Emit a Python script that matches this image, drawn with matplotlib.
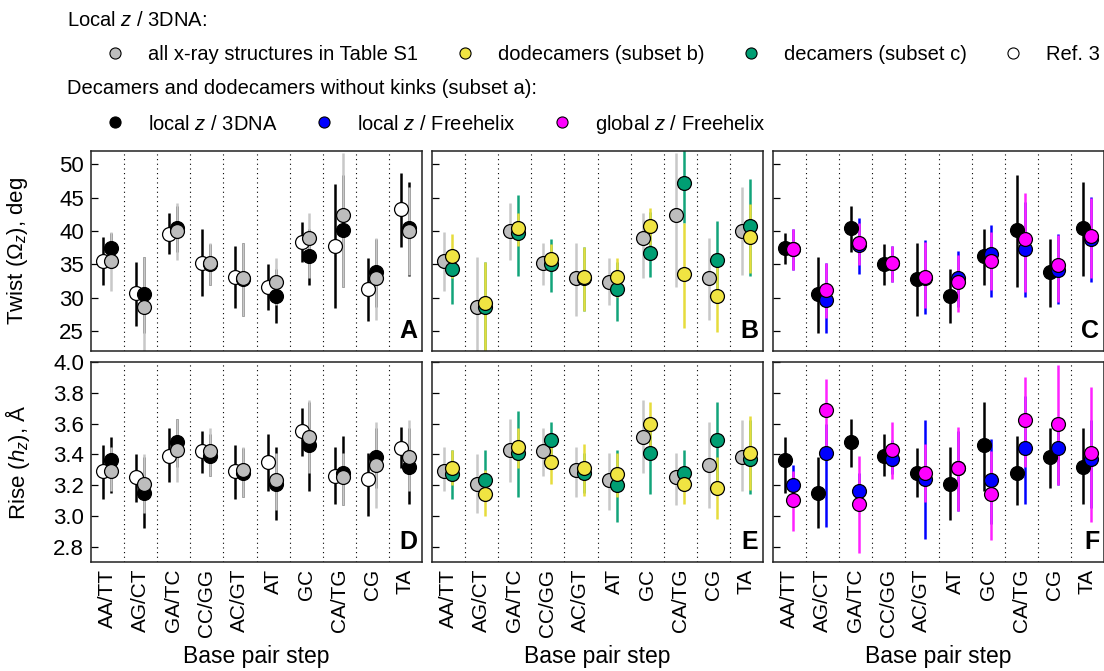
import matplotlib
matplotlib.use('Agg')
import matplotlib.pyplot as plt
from matplotlib.lines import Line2D
import numpy as np

plt.rcParams['font.family'] = ['Liberation Sans', 'DejaVu Sans']
plt.rcParams['mathtext.fontset'] = 'custom'
plt.rcParams['mathtext.rm'] = 'Liberation Sans'
plt.rcParams['mathtext.it'] = 'Liberation Sans:italic'

categories = ['AA/TT', 'AG/CT', 'GA/TC', 'CC/GG', 'AC/GT', 'AT', 'GC', 'CA/TG', 'CG', 'TA']

# ---------------- Twist (deg) ----------------
twist_all = [35.5, 28.55, 40.0, 35.25, 33.0, 32.3, 39.0, 42.4, 33.0, 40.0]
twist_all_lo = [31.05, 21.9, 35.65, 31.9, 27.3, 28.9, 32.9, 31.65, 26.65, 33.4]
twist_all_hi = [39.8, 36.15, 44.15, 38.15, 38.15, 35.9, 42.65, 51.65, 39.0, 46.65]

twist_ref3 = [35.5, 30.65, 39.5, 35.25, 33.1, 31.65, 38.4, 37.8, 31.3, 43.3]
twist_ref3_lo = [31.9, 25.8, 36.5, 30.3, 28.4, 28.15, 35.4, 28.4, 26.5, 37.65]
twist_ref3_hi = [39.15, 35.4, 42.65, 40.25, 37.75, 35.05, 41.4, 47.0, 36.0, 48.75]

twist_a3dna = [37.4, 30.5, 40.5, 35.05, 32.8, 30.25, 36.25, 40.15, 33.8, 40.5]
twist_a3dna_lo = [35.05, 24.75, 36.9, 31.9, 27.3, 26.15, 31.9, 31.65, 28.65, 33.3]
twist_a3dna_hi = [39.65, 36.15, 43.75, 38.05, 38.15, 34.3, 40.25, 48.4, 38.75, 47.4]

twist_afree = [37.3, 29.65, 37.9, 35.2, 33.0, 33.0, 36.5, 37.25, 34.15, 38.75]
twist_afree_lo = [34.15, 24.75, 33.55, 32.4, 27.5, 28.55, 30.15, 30.15, 29.05, 32.3]
twist_afree_hi = [40.25, 35.15, 42.0, 37.75, 38.65, 37.0, 40.9, 44.4, 39.5, 45.05]

twist_aglob = [37.3, 31.15, 38.25, 35.25, 33.1, 32.3, 35.5, 38.8, 34.9, 39.3]
twist_aglob_lo = [34.15, 26.9, 34.9, 32.4, 28.4, 27.9, 31.15, 30.9, 29.4, 32.9]
twist_aglob_hi = [40.25, 35.15, 41.15, 37.75, 38.4, 36.4, 39.9, 45.75, 39.4, 44.9]

twist_dodec = [36.3, 29.15, 40.4, 35.75, 33.05, 33.05, 40.8, 33.5, 30.25, 39.15]
twist_dodec_lo = [32.9, 21.9, 37.8, 34.15, 28.05, 30.15, 37.9, 25.5, 24.9, 33.65]
twist_dodec_hi = [39.5, 35.4, 42.65, 38.0, 37.65, 35.9, 43.5, 41.15, 35.4, 44.0]

twist_dec = [34.25, 28.65, 39.65, 35.0, 33.0, 31.3, 36.75, 47.15, 35.65, 40.75]
twist_dec_lo = [29.0, 21.9, 33.3, 30.9, 28.05, 26.55, 33.05, 41.15, 30.9, 33.25]
twist_dec_hi = [36.4, 35.3, 45.4, 38.75, 37.65, 35.4, 42.9, 52.15, 41.5, 47.75]

# ---------------- Rise (Angstrom) ----------------
rise_all = [3.29, 3.21, 3.43, 3.42, 3.30, 3.23, 3.51, 3.25, 3.33, 3.38]
rise_all_lo = [3.16, 3.02, 3.22, 3.26, 3.12, 3.04, 3.28, 3.07, 3.05, 3.16]
rise_all_hi = [3.45, 3.40, 3.63, 3.57, 3.45, 3.41, 3.75, 3.41, 3.61, 3.62]

rise_ref3 = [3.29, 3.25, 3.39, 3.42, 3.29, 3.35, 3.55, 3.26, 3.24, 3.44]
rise_ref3_lo = [3.11, 3.09, 3.22, 3.28, 3.11, 3.16, 3.39, 3.08, 3.00, 3.31]
rise_ref3_hi = [3.46, 3.40, 3.57, 3.55, 3.46, 3.53, 3.70, 3.45, 3.41, 3.58]

rise_a3dna = [3.36, 3.15, 3.48, 3.39, 3.28, 3.21, 3.46, 3.28, 3.38, 3.32]
rise_a3dna_lo = [3.15, 2.92, 3.32, 3.26, 3.12, 2.97, 3.16, 3.07, 3.18, 3.08]
rise_a3dna_hi = [3.51, 3.38, 3.63, 3.53, 3.44, 3.45, 3.74, 3.52, 3.57, 3.57]

rise_afree = [3.20, 3.41, 3.16, 3.37, 3.24, 3.31, 3.23, 3.44, 3.44, 3.37]
rise_afree_lo = [3.08, 2.93, 3.06, 3.27, 2.85, 3.03, 2.95, 3.08, 3.20, 3.05]
rise_afree_hi = [3.33, 3.60, 3.28, 3.49, 3.62, 3.55, 3.50, 3.78, 3.62, 3.62]

rise_aglob = [3.10, 3.69, 3.08, 3.43, 3.28, 3.31, 3.14, 3.62, 3.60, 3.41]
rise_aglob_lo = [2.90, 3.45, 2.76, 3.24, 3.09, 3.03, 2.84, 3.32, 3.20, 2.96]
rise_aglob_hi = [3.29, 3.89, 3.39, 3.61, 3.47, 3.58, 3.42, 3.90, 3.98, 3.84]

rise_dodec = [3.31, 3.14, 3.45, 3.35, 3.31, 3.27, 3.60, 3.21, 3.18, 3.41]
rise_dodec_lo = [3.20, 3.00, 3.31, 3.21, 3.13, 3.12, 3.45, 3.08, 2.98, 3.17]
rise_dodec_hi = [3.43, 3.30, 3.57, 3.50, 3.47, 3.41, 3.74, 3.32, 3.38, 3.65]

rise_dec = [3.27, 3.23, 3.41, 3.49, 3.28, 3.20, 3.41, 3.28, 3.49, 3.37]
rise_dec_lo = [3.11, 3.19, 3.12, 3.32, 3.15, 2.96, 3.14, 3.17, 3.21, 3.14]
rise_dec_hi = [3.43, 3.43, 3.68, 3.61, 3.41, 3.43, 3.65, 3.43, 3.74, 3.62]

# ---------------- styles ----------------
FACE = {'all': '#bdbdbd', 'ref3': 'white', 'a3dna': 'black', 'afree': '#0000ff',
        'aglob': '#ff00ff', 'dodec': '#f0e442', 'dec': '#009e73'}
BAR = {'all': '#c8c8c8', 'ref3': 'black', 'a3dna': 'black', 'afree': '#0000ff',
       'aglob': '#ff22ff', 'dodec': '#e6dc3c', 'dec': '#12a47a'}
LEFT, RIGHT = -0.14, 0.10

W, H = 1104, 671
fig = plt.figure(figsize=(W / 100, H / 100), dpi=100)


def rect(l, t, w, h):
    return [l / W, 1 - (t + h) / H, w / W, h / H]


lefts = [91, 432, 773]
tops = [151, 362]
PW, PH = 331, 200

xc = np.arange(len(categories)) + 0.5


def draw(ax, series, ylim, yticks, ylabels, letter, bottom_row):
    for k in range(1, len(categories)):
        ax.axvline(k, color='black', lw=0.8, ls=(0, (1, 3.2)), zorder=1)
    for i, (key, vals, lo, hi, off) in enumerate(series):
        ax.vlines(xc + off, lo, hi, color=BAR[key], lw=1.8, zorder=2 + 0.01 * i)
    for i, (key, vals, lo, hi, off) in enumerate(series):
        ax.plot(xc + off, vals, 'o', ms=10, mfc=FACE[key], mec='black', mew=0.9,
                zorder=3 + 0.1 * i, clip_on=True)
    ax.set_xlim(0, len(categories))
    ax.set_ylim(*ylim)
    ax.set_yticks(yticks)
    ax.tick_params(axis='y', direction='in', length=5, width=0.9, labelsize=16, pad=5)
    if ylabels is None:
        ax.tick_params(axis='y', labelleft=False)
    else:
        ax.set_yticklabels(ylabels)
    ax.set_xticks(xc)
    if bottom_row:
        ax.set_xticklabels(categories, rotation=90, fontsize=15)
        ax.tick_params(axis='x', length=0, pad=5)
    else:
        ax.tick_params(axis='x', length=0, labelbottom=False)
    for s in ax.spines.values():
        s.set_color('#222222')
        s.set_linewidth(1.1)
    ax.text(0.986, 0.04, letter, transform=ax.transAxes, ha='right', va='bottom',
            fontsize=18, fontweight='bold')


tw_lim = (22, 52)
tw_ticks = [25, 30, 35, 40, 45, 50]
ri_lim = (2.7, 4.0)
ri_ticks = [2.8, 3.0, 3.2, 3.4, 3.6, 3.8, 4.0]

panels = [
    # top row: twist
    (0, 0, [('ref3', twist_ref3, twist_ref3_lo, twist_ref3_hi, LEFT),
            ('a3dna', twist_a3dna, twist_a3dna_lo, twist_a3dna_hi, RIGHT),
            ('all', twist_all, twist_all_lo, twist_all_hi, RIGHT)], 'A'),
    (0, 1, [('all', twist_all, twist_all_lo, twist_all_hi, LEFT),
            ('dec', twist_dec, twist_dec_lo, twist_dec_hi, RIGHT),
            ('dodec', twist_dodec, twist_dodec_lo, twist_dodec_hi, RIGHT)], 'B'),
    (0, 2, [('a3dna', twist_a3dna, twist_a3dna_lo, twist_a3dna_hi, LEFT),
            ('afree', twist_afree, twist_afree_lo, twist_afree_hi, RIGHT),
            ('aglob', twist_aglob, twist_aglob_lo, twist_aglob_hi, RIGHT)], 'C'),
    # bottom row: rise
    (1, 0, [('ref3', rise_ref3, rise_ref3_lo, rise_ref3_hi, LEFT),
            ('a3dna', rise_a3dna, rise_a3dna_lo, rise_a3dna_hi, RIGHT),
            ('all', rise_all, rise_all_lo, rise_all_hi, RIGHT)], 'D'),
    (1, 1, [('all', rise_all, rise_all_lo, rise_all_hi, LEFT),
            ('dec', rise_dec, rise_dec_lo, rise_dec_hi, RIGHT),
            ('dodec', rise_dodec, rise_dodec_lo, rise_dodec_hi, RIGHT)], 'E'),
    (1, 2, [('a3dna', rise_a3dna, rise_a3dna_lo, rise_a3dna_hi, LEFT),
            ('afree', rise_afree, rise_afree_lo, rise_afree_hi, RIGHT),
            ('aglob', rise_aglob, rise_aglob_lo, rise_aglob_hi, RIGHT)], 'F'),
]

for row, col, series, letter in panels:
    ax = fig.add_axes(rect(lefts[col], tops[row], PW, PH))
    if row == 0:
        labels = [str(t) for t in tw_ticks] if col == 0 else None
        draw(ax, series, tw_lim, tw_ticks, labels, letter, False)
    else:
        labels = ['%.1f' % t for t in ri_ticks] if col == 0 else None
        draw(ax, series, ri_lim, ri_ticks, labels, letter, True)

# axis titles
fig.text(18 / W, 1 - 251 / H, 'Twist (Ω$_z$), deg', rotation=90, ha='center',
         va='center', fontsize=16)
fig.text(18 / W, 1 - 462 / H, 'Rise ($h_z$), Å', rotation=90, ha='center',
         va='center', fontsize=16)
for l in lefts:
    fig.text((l + PW / 2) / W, 1 - 656 / H, 'Base pair step', ha='center',
             va='center', fontsize=16.5)

# legend
fig.text(67 / W, 1 - 21 / H, 'Local $z$ / 3DNA:', ha='left', va='center', fontsize=14.5)
fig.text(67 / W, 1 - 89 / H, 'Decamers and dodecamers without kinks (subset a):',
         ha='left', va='center', fontsize=14.5)


def handle(key):
    return Line2D([], [], ls='none', marker='o', ms=8, mfc=FACE[key], mec='black', mew=0.8)


leg_kw = dict(frameon=False, handlelength=1.0, handletextpad=1.15, columnspacing=1.8,
              borderaxespad=0, borderpad=0, fontsize=14.5, loc='center left')
fig.legend([handle('all'), handle('dodec'), handle('dec'), handle('ref3')],
           ['all x-ray structures in Table S1', 'dodecamers (subset b)',
            'decamers (subset c)', 'Ref. 3'],
           ncol=4, bbox_to_anchor=(105 / W, 1 - 55 / H), **leg_kw)
fig.legend([handle('a3dna'), handle('afree'), handle('aglob')],
           ['local $z$ / 3DNA', 'local $z$ / Freehelix', 'global $z$ / Freehelix'],
           ncol=3, bbox_to_anchor=(105 / W, 1 - 124 / H), **leg_kw)

fig.savefig('out.png', dpi=100)
